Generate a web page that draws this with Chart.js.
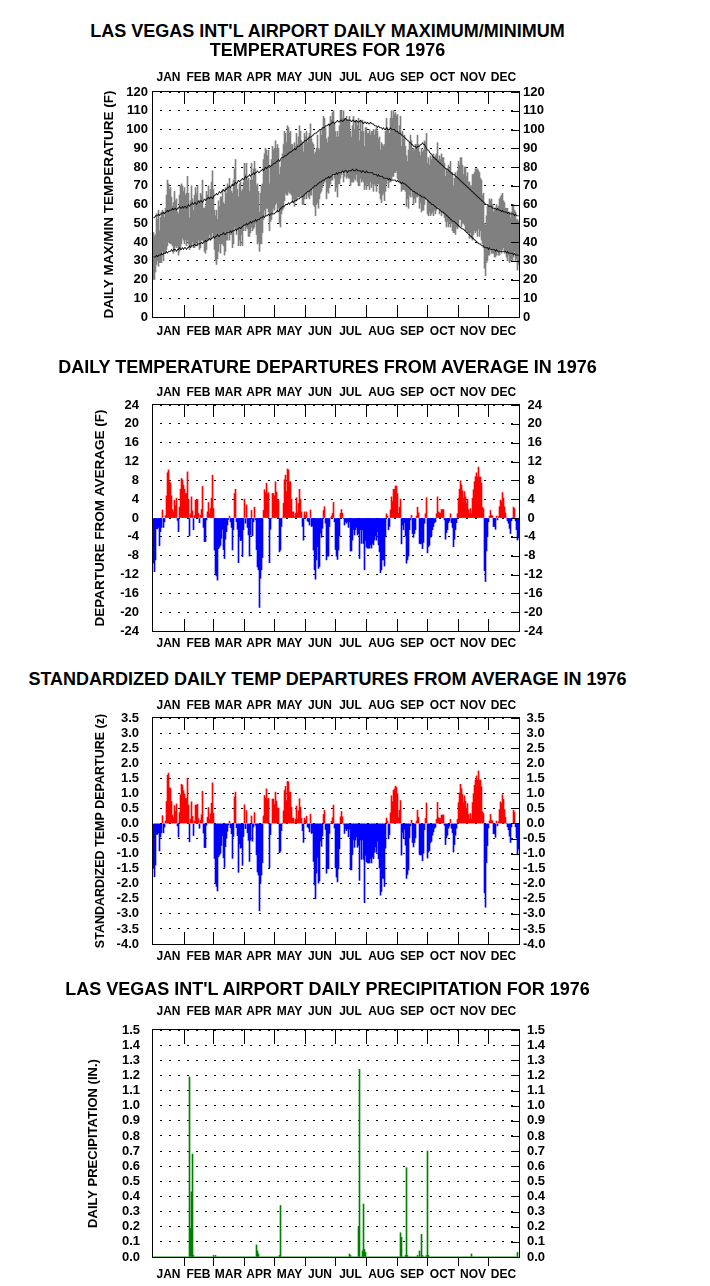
<!DOCTYPE html>
<html><head><meta charset="utf-8">
<script src="https://cdn.jsdelivr.net/npm/chart.js@4.4.1/dist/chart.umd.min.js"></script>
<style>
html,body{margin:0;padding:0;background:#fff;}
body{width:710px;height:1286px;position:relative;overflow:hidden;font-family:"Liberation Sans",Arial,sans-serif;}
.t{position:absolute;left:0;width:655px;text-align:center;font-weight:bold;font-size:18px;line-height:20px;color:#000;white-space:nowrap;z-index:2;}
canvas{position:absolute;left:0;z-index:1;}
</style></head><body>
<div class="t" style="top:21px">LAS VEGAS INT'L AIRPORT DAILY MAXIMUM/MINIMUM</div>
<div class="t" style="top:40px">TEMPERATURES FOR 1976</div>
<div class="t" style="top:357px">DAILY TEMPERATURE DEPARTURES FROM AVERAGE IN 1976</div>
<div class="t" style="top:669px">STANDARDIZED DAILY TEMP DEPARTURES FROM AVERAGE IN 1976</div>
<div class="t" style="top:979px">LAS VEGAS INT'L AIRPORT DAILY PRECIPITATION FOR 1976</div>
<canvas id="c1"></canvas>
<canvas id="c2"></canvas>
<canvas id="c3"></canvas>
<canvas id="c4"></canvas>
<script>
const monthNames = ['JAN','FEB','MAR','APR','MAY','JUN','JUL','AUG','SEP','OCT','NOV','DEC'];
const monthDays = [31,29,31,30,31,30,31,31,30,31,30,31];

const normalMax = [53,53,54,54,54,55,54,55,55,55,56,55,56,56,57,56,57,
57,57,58,57,58,58,57,58,58,59,58,58,59,58,
59,59,58,59,60,59,60,60,61,60,61,61,60,61,62,61,
62,62,61,62,63,62,63,63,64,63,64,64,63,
64,65,65,66,65,66,67,66,67,67,68,67,68,68,
69,69,70,69,70,71,70,71,72,71,72,73,72,73,73,74,73,
74,75,74,75,75,76,75,76,76,77,76,77,77,78,77,77,
78,78,79,78,79,80,79,80,80,81,80,81,81,82,
82,82,83,83,84,83,84,85,
85,85,86,86,86,87,87,88,88,88,89,89,90,89,90,91,91,91,92,92,
93,93,94,94,94,95,95,96,96,96,97,97,98,98,98,99,99,100,100,100,
101,101,101,102,102,102,103,102,103,103,
104,104,103,104,104,105,104,104,105,105,104,105,105,106,105,105,105,
105,105,104,105,105,104,104,105,104,104,104,105,104,104,103,104,104,103,104,103,103,104,103,
103,103,102,102,102,101,102,101,101,101,
100,101,100,100,101,100,100,100,101,100,100,100,
100,99,99,99,98,98,98,97,97,96,
96,95,95,94,94,93,93,92,92,91,
91,91,90,91,91,91,92,92,93,92,
92,91,90,89,89,88,87,87,86,85,
85,84,84,83,83,82,82,81,81,80,
80,79,79,79,78,78,77,77,76,76,
76,75,75,74,74,73,73,72,72,71,
71,70,70,69,69,68,68,67,67,66,
66,65,65,64,64,63,63,62,62,61,
61,60,60,60,59,59,59,59,58,58,
58,58,57,58,57,57,57,56,57,56,
56,56,56,55,56,55,55,55,55,55,54,55,54,54,54];

const normalMin = [32,32,32,33,32,33,33,33,34,33,34,34,34,35,34,35,35,
35,36,35,36,36,36,35,36,36,37,36,36,37,36,
37,37,36,37,37,38,37,38,38,38,39,38,38,39,39,39,
39,40,39,40,40,41,40,41,41,42,41,42,42,
43,42,43,43,44,43,43,44,44,44,45,44,44,45,
45,45,45,46,45,46,46,46,47,46,47,47,48,47,48,48,49,
49,49,50,49,50,50,51,50,51,51,51,52,51,52,52,52,
53,53,53,54,53,54,54,54,55,54,55,55,55,55,
55,56,56,57,56,57,58,58,
59,59,59,60,60,60,61,60,61,61,62,61,62,62,62,63,63,63,64,64,
64,65,65,66,66,67,67,67,68,68,69,69,70,70,70,71,71,72,72,72,
73,73,73,74,74,74,75,74,75,75,
76,76,76,76,77,76,77,77,77,77,78,77,78,78,78,77,78,
78,78,78,79,78,78,78,79,78,78,78,78,77,78,78,77,77,78,77,77,77,77,77,
77,76,76,76,76,75,76,75,75,75,
75,74,74,74,74,74,73,74,73,73,73,73,
73,73,72,73,72,72,72,71,72,71,
71,71,70,70,69,69,68,68,67,67,
67,66,66,66,65,65,65,64,64,64,
64,63,63,62,62,61,61,60,60,60,
59,59,58,58,58,57,57,56,56,56,
55,55,54,54,53,53,52,52,51,51,
51,50,50,49,49,48,48,47,47,47,
46,46,45,45,44,44,43,43,42,42,
41,41,40,40,39,39,39,38,38,38,
37,37,37,37,36,37,36,36,36,36,
36,35,36,35,35,35,35,35,35,35,
35,35,34,35,34,34,34,34,34,33,34,33,33,33,33];

const dailyMax = [45,43,44,55,52,57,46,53,56,57,56,53,58,65,73,71,68,
69,64,59,61,67,62,63,56,55,65,70,71,70,67,
69,65,66,75,66,53,62,70,63,57,65,69,66,70,62,62,
66,65,73,58,58,59,67,65,70,63,68,72,78,
68,57,54,57,52,62,59,64,64,68,61,60,69,66,
71,69,74,69,67,66,73,79,84,71,68,64,71,72,67,68,72,
82,76,82,73,74,67,73,82,73,79,83,79,70,71,67,56,
66,70,71,84,87,90,89,86,89,71,80,84,91,89,
90,94,90,92,90,76,80,84,
87,92,99,98,93,102,101,98,99,92,92,89,93,91,98,92,96,102,99,94,
93,88,98,96,99,93,96,98,103,95,93,92,87,88,90,97,90,89,100,97,
101,107,106,101,95,93,96,103,107,105,
109,110,103,99,96,99,96,102,110,110,106,110,106,105,107,105,105,
107,99,96,102,107,100,105,104,102,106,94,105,99,105,99,91,101,101,98,98,100,97,99,
99,100,97,100,101,99,95,96,89,93,
92,91,92,99,106,101,100,98,106,110,106,110,
108,109,107,108,99,102,107,91,99,95,
97,91,86,83,89,93,97,94,89,90,
89,92,92,97,92,88,86,90,88,89,
94,93,98,82,85,81,86,84,86,87,
85,86,87,93,84,86,84,87,85,85,
82,75,79,78,81,79,83,77,77,70,
74,77,75,78,83,81,85,85,81,76,
80,80,75,77,72,72,70,70,76,76,
77,79,79,79,78,77,74,73,65,66,
50,49,54,59,60,63,62,63,60,56,
58,57,60,58,59,63,64,65,66,62,
61,58,58,58,55,56,53,56,59,60,57,56,52,52,51];

const dailyMin = [20,20,24,28,30,27,29,29,29,35,30,34,34,36,38,40,40,
39,39,38,34,35,38,37,38,33,35,36,39,42,41,
39,41,38,41,39,36,37,38,40,37,37,38,40,38,41,36,
37,41,41,40,35,34,36,41,41,44,41,42,45,
43,36,30,28,31,35,39,34,39,39,38,33,35,41,
41,45,41,44,44,37,39,48,47,44,47,38,41,38,44,38,46,
49,46,48,47,43,43,45,48,46,47,48,50,44,39,40,35,
39,39,45,52,57,54,58,58,56,46,51,52,55,58,
57,60,61,56,58,50,48,55,
57,58,62,66,65,65,67,66,66,65,61,63,59,62,62,64,64,64,65,64,
60,60,63,66,63,67,64,63,65,65,69,60,59,54,60,61,58,63,66,67,
69,71,72,73,63,67,66,69,71,73,
73,76,74,67,69,64,71,71,74,76,78,72,75,77,74,75,74,
74,70,72,72,72,74,73,76,72,70,70,74,72,73,72,68,70,68,71,70,68,72,69,
71,67,71,70,67,71,71,66,63,61,
65,66,62,67,71,73,69,72,72,73,75,75,
77,77,78,74,73,72,71,67,68,68,
68,67,59,63,58,65,64,68,64,60,
63,61,64,64,66,58,61,56,57,57,
60,63,63,55,54,56,54,55,56,54,
57,55,57,58,59,55,57,54,56,55,
53,51,48,51,48,50,48,50,46,45,
45,44,48,47,48,52,52,48,50,50,
49,46,46,45,45,42,45,42,41,44,
46,45,46,43,47,43,46,41,39,37,
26,22,29,30,33,33,37,34,34,34,
32,32,33,35,33,33,36,34,36,37,
34,35,32,30,33,29,30,31,30,32,35,30,31,25,28];

const departure = [-9.6,-11.4,-8.9,-2.3,-2.3,-2,-5.9,-2.9,-2,1.7,-2,-0.8,0.5,4.7,9.6,10.2,7.7,
7.5,4.7,1.8,1.3,3.8,2.6,4.2,-0.5,-2.9,2.3,6.1,8.4,8.1,7,
6.1,5.2,5.2,9.8,3.8,-3.8,0.9,4.5,1.5,-2.5,0.5,3.8,3.8,4,1,-1,
0.6,1.8,6.7,-2,-5,-5,-0.4,1.3,3.3,0.9,2,4.2,9.1,
2,-6.8,-11.8,-12.3,-13.2,-6.5,-6.2,-5.8,-4.3,-2.4,-6.7,-8.6,-4.5,-2.9,
-1.5,-0.3,0.4,-0.8,-2,-6.8,-2.5,5.2,6.1,-0.8,-2.4,-9.5,-4,-4.8,-4.7,-8.2,-2.5,
4,-1.1,2.8,-2,-3.6,-8.1,-3.6,1.6,-3.8,-0.8,2.3,-0.4,-6.7,-10.4,-11,-19,
-12.8,-11,-8.4,1.6,6,5.4,7.4,5.1,5.4,-9.5,-2.4,-0.1,5.2,5.2,
4.7,7.7,5.5,3.8,3.8,-7.2,-6.8,-1.8,
0,3.1,8.1,9.1,5.6,10.4,10.2,7.7,7.7,4,1.3,1.3,0.2,1,4.3,1.1,3.1,6.1,4,1.3,
-1.8,-4.7,1.3,0.6,1.3,-0.6,-0.8,-1.5,1.7,-1.8,-1.7,-6.8,-11,-13,-8.9,-6.1,-10.7,-10.3,-3.2,-4.1,
-2.2,1.6,2.4,-1.1,-8.9,-8.1,-8.1,-1.8,0,0.4,
1,3.3,-0.8,-6.7,-8.1,-8.8,-6.8,-3.8,1,1.8,1,-0.1,-1.5,-0.8,-1.1,-0.8,-2,
-0.8,-7,-7,-4.7,-2.4,-3.6,-2.5,-2,-3.6,-3.3,-8.6,-2.5,-5.4,-2.5,-5.4,-11,-4.8,-6.2,-6.4,-6.4,-6.4,-5.7,-6.4,
-5.4,-5.7,-4.7,-3.8,-4.7,-2.9,-5.7,-7.2,-11.6,-11,
-8.9,-8.9,-10.2,-4,0.9,0.4,-2.5,-1.8,1.7,4.5,3.5,6.1,
6.1,6.8,6.8,5.2,1,2.3,4,-5.5,-1.5,-2.5,
-1,-3.8,-9.6,-8.9,-8.1,-2.5,-0.4,0.6,-3.3,-4.1,
-3.3,-2.5,0.4,2.3,1.1,-5.4,-5.5,-5.4,-6.5,-5.2,
-1.1,0.9,4.3,-7.4,-6.1,-5.8,-4.1,-3.8,-2.5,-1.8,
-1,-0.8,0.9,4.5,1.3,1.1,1,1.8,1.8,1.8,
-0.4,-4.5,-3.1,-2.5,-1,-0.6,0.9,-1,-2,-6.1,
-4.5,-2.5,-1,0.9,4.2,6.1,7.9,7,5.8,4.2,
5.6,4.5,3.1,4,1.8,0.9,2,0.9,4.2,6,
7.7,8.8,9.6,8.7,10.8,8.7,8.7,7.4,2.3,2,
-11.2,-13.5,-7,-4,-0.8,0.4,1.6,0.6,0.4,-1.8,
-1.8,-2.4,0.4,-0.4,0.3,2.4,3.8,3.5,5.4,4.2,
2.4,1.1,0,-0.6,-1.1,-2.2,-3.3,-0.6,0,2.3,2,-0.6,-2.5,-4.7,-4];

const zDeparture = [-1.49,-1.77,-1.38,-0.36,-0.36,-0.31,-0.91,-0.45,-0.31,0.26,-0.31,-0.12,0.08,0.73,1.6,1.67,1.19,
1.16,0.73,0.28,0.2,0.59,0.4,0.65,-0.08,-0.45,0.36,0.95,1.3,1.26,1.09,
0.98,0.83,0.83,1.5,0.61,-0.61,0.14,0.72,0.24,-0.4,0.08,0.61,0.61,0.64,0.16,-0.16,
0.1,0.29,1.07,-0.32,-0.8,-0.8,-0.06,0.21,0.53,0.14,0.32,0.67,1.35,
0.34,-1.16,-2.0,-2.09,-2.24,-1.1,-1.05,-0.99,-0.73,-0.41,-1.14,-1.46,-0.77,-0.49,
-0.26,-0.05,0.07,-0.14,-0.34,-1.16,-0.43,0.88,1.04,-0.14,-0.41,-1.62,-0.68,-0.82,-0.8,-1.39,-0.43,
0.62,-0.17,0.43,-0.31,-0.56,-1.26,-0.56,0.25,-0.59,-0.12,0.36,-0.06,-1.04,-1.61,-1.71,-2.9,
-1.98,-1.71,-1.3,0.25,0.93,0.84,1.15,0.79,0.84,-1.47,-0.37,-0.02,0.81,0.81,
0.63,1.04,0.74,0.51,0.51,-0.97,-0.92,-0.24,
0,0.42,1.09,1.23,0.76,1.4,1.38,1.04,1.04,0.54,0.18,0.18,0.03,0.14,0.58,0.15,0.42,0.82,0.54,0.18,
-0.24,-0.63,0.18,0.11,0.24,-0.11,-0.15,-0.28,0.31,-0.33,-0.31,-1.26,-2.04,-2.5,-1.65,-1.13,-1.98,-1.91,-0.59,-0.76,
-0.41,0.3,0.44,-0.2,-1.65,-1.5,-1.5,-0.33,0,0.07,
0.19,0.61,-0.15,-1.47,-1.78,-1.94,-1.5,-0.84,0.22,0.4,0.22,-0.02,-0.33,-0.18,-0.24,-0.18,-0.44,
-0.18,-1.54,-1.54,-1.03,-0.53,-0.79,-0.55,-0.44,-0.79,-0.73,-1.89,-0.55,-1.19,-0.55,-1.19,-2.63,-1.06,-1.27,-1.31,-1.31,-1.31,-1.17,-1.31,
-1.11,-1.17,-0.96,-0.78,-0.96,-0.59,-1.17,-1.48,-2.38,-2.26,
-1.82,-1.82,-2.09,-0.82,0.18,0.08,-0.51,-0.37,0.35,0.92,0.72,1.1,
1.15,1.24,1.2,0.99,0.19,0.44,0.76,-1.05,-0.29,-0.48,
-0.19,-0.72,-1.82,-1.69,-1.54,-0.48,-0.08,0.11,-0.63,-0.78,
-0.63,-0.48,0.08,0.44,0.21,-1.03,-1.05,-1.03,-1.24,-0.99,
-0.21,0.17,0.68,-1.15,-0.95,-0.9,-0.64,-0.59,-0.39,-0.28,
-0.16,-0.12,0.14,0.7,0.2,0.17,0.16,0.28,0.28,0.28,
-0.06,-0.7,-0.48,-0.39,-0.16,-0.09,0.14,-0.16,-0.31,-0.95,
-0.7,-0.39,-0.16,0.14,0.69,1.01,1.3,1.16,0.96,0.69,
0.92,0.74,0.51,0.66,0.3,0.15,0.33,0.15,0.69,0.99,
1.27,1.45,1.58,1.44,1.74,1.44,1.44,1.22,0.38,0.33,
-2.3,-2.78,-1.3,-0.74,-0.15,0.08,0.3,0.11,0.08,-0.34,
-0.34,-0.46,0.08,-0.08,0.06,0.46,0.72,0.67,0.95,0.8,
0.46,0.21,0,-0.11,-0.21,-0.42,-0.63,-0.11,0,0.44,0.38,-0.11,-0.48,-1.03,-0.85];

const precipDays = [36,37,38,39,40,60,62,103,104,105,126,127,196,197,205,206,209,210,211,212,247,248,252,253,254,264,266,268,269,273,274,275,318,364];
const precipAmounts = [1.19,0.19,0.43,0.68,0.01,0.01,0.01,0.08,0.04,0.02,0.01,0.34,0.02,0.01,0.2,1.24,0.04,0.35,0.05,0.03,0.16,0.13,0.01,0.59,0.01,0.01,0.04,0.15,0.01,0.01,0.7,0.01,0.02,0.03];

// ---- derived structures ----
const dayLabels = [];
const monthStarts = [];
const monthMids = [];
let acc = 0;
monthDays.forEach((n, m) => {
  monthStarts.push(acc);
  monthMids.push(acc + n / 2);
  for (let d = 1; d <= n; d++) dayLabels.push(monthNames[m] + ' ' + d);
  acc += n;
});
const nDays = acc;
const precip = dayLabels.map(() => 0);
precipDays.forEach((d, i) => { precip[d] = precipAmounts[i]; });

const FONT = '"Liberation Sans", Arial, Helvetica, sans-serif';
const tickFont = {family: FONT, size: 13, weight: 'bold'};
const monthFont = {family: FONT, size: 12, weight: 'bold'};

const framePlugin = {
  id: 'frame',
  afterDraw(chart) {
    const {ctx, chartArea: a} = chart;
    const xs = chart.scales.xt, ys = chart.scales.y;
    const o = chart.options.plugins.frame;
    ctx.save();
    ctx.strokeStyle = '#000';
    ctx.lineWidth = 1;
    ctx.beginPath();
    monthStarts.slice(1).forEach(v => {
      const x = Math.round(xs.getPixelForValue(v)) + 0.5;
      ctx.moveTo(x, a.top); ctx.lineTo(x, a.top + o.topTick);
      if (o.bottomOut) { ctx.moveTo(x, a.bottom); ctx.lineTo(x, a.bottom + o.bottomTick); }
      else { ctx.moveTo(x, a.bottom); ctx.lineTo(x, a.bottom - o.bottomTick); }
    });
    ys.ticks.forEach(t => {
      const y = Math.round(ys.getPixelForValue(t.value)) + 0.5;
      ctx.moveTo(a.right - o.rightTick, y); ctx.lineTo(a.right, y);
    });
    ctx.stroke();
    ctx.strokeRect(a.left - 0.5, a.top - 0.5, a.right - a.left + 1, a.bottom - a.top + 1);
    ctx.restore();
  }
};

function makePanel(id, o) {
  const cv = document.getElementById(id);
  cv.width = 710;
  cv.height = o.canvasBottom - o.canvasTop;
  cv.style.top = o.canvasTop + 'px';
  const topH = o.plotTop - o.canvasTop;
  const botH = o.canvasBottom - o.plotBottom;
  const fmt = v => o.dec ? Number(v).toFixed(o.dec) : String(Math.round(v));
  // right-hand labels: positive values get a leading space so the minus sign hangs to the left
  const fmtRight = v => (o.hang && v >= 0 ? ' ' : '') + fmt(v);
  const yTicks = (pad, f) => ({stepSize: o.step, autoSkip: false, maxTicksLimit: 100, color: '#000', font: tickFont, padding: pad, callback: v => f(v)});
  const monthAxis = (pos, h, pad) => ({
    type: 'linear', position: pos, min: 0, max: nDays, offset: false,
    afterBuildTicks: s => { s.ticks = monthMids.map(v => ({value: v})); },
    afterFit: s => { s.height = h; },
    grid: {display: false, drawTicks: false, offset: false},
    border: {display: false},
    ticks: {autoSkip: false, maxRotation: 0, minRotation: 0, padding: pad, color: '#000', font: monthFont,
            callback: (v, i) => monthNames[i]}
  });
  return new Chart(cv, {
    type: 'bar',
    data: {labels: dayLabels, datasets: o.datasets},
    options: {
      responsive: false, animation: false, devicePixelRatio: 1, events: [],
      layout: {padding: 0},
      plugins: {legend: {display: false}, tooltip: {enabled: false},
                frame: {topTick: o.topTick, bottomTick: o.bottomTick, bottomOut: o.bottomOut, rightTick: 8}},
      scales: {
        x: {type: 'category', display: false, offset: true, grid: {display: false}},
        xt: monthAxis('top', topH, o.topPad),
        xb: monthAxis('bottom', botH, o.botPad),
        y: {type: 'linear', position: 'left', min: o.min, max: o.max,
            afterFit: s => { s.width = 153; },
            grid: {color: '#000', lineWidth: 1, drawTicks: false},
            border: {display: false, dash: [2, 7], dashOffset: 2},
            title: {display: true, text: o.title, color: '#000', font: {family: FONT, size: o.titleSize, weight: 'bold'},
                    padding: {top: o.titleX - o.titleSize * 0.6, bottom: 0}},
            ticks: yTicks(o.leftPad, fmt)},
        y2: {type: 'linear', position: 'right', min: o.min, max: o.max,
            afterFit: s => { s.width = 710 - 519; },
            grid: {display: false, drawTicks: false},
            border: {display: false},
            ticks: yTicks(o.rightPad, fmtRight)}
      }
    },
    plugins: [framePlugin]
  });
}

const barOpts = {type: 'bar', barPercentage: 1, categoryPercentage: 1, borderWidth: 0, xAxisID: 'x', yAxisID: 'y'};

makePanel('c1', {
  canvasTop: 58, plotTop: 92, plotBottom: 317, canvasBottom: 346,
  min: 0, max: 120, step: 10, dec: 0, hang: false,
  topPad: 7, botPad: 7, leftPad: 5, rightPad: 4, topTick: 12, bottomTick: 12, bottomOut: false,
  title: 'DAILY MAX/MIN TEMPERATURE (F)', titleX: 109, titleSize: 13.5,
  datasets: [
    {type: 'line', data: normalMax, borderColor: '#000', borderWidth: 1, pointRadius: 0, tension: 0, order: 0, xAxisID: 'x', yAxisID: 'y'},
    {type: 'line', data: normalMin, borderColor: '#000', borderWidth: 1, pointRadius: 0, tension: 0, order: 0, xAxisID: 'x', yAxisID: 'y'},
    Object.assign({}, barOpts, {data: dailyMin.map((v, i) => [v, dailyMax[i]]), backgroundColor: '#808080', order: 1})
  ]
});

makePanel('c2', {
  canvasTop: 376, plotTop: 405, plotBottom: 631, canvasBottom: 660,
  min: -24, max: 24, step: 4, dec: 0, hang: true,
  topPad: 5, botPad: 5, leftPad: 14, rightPad: 5, topTick: 12, bottomTick: 12, bottomOut: false,
  title: 'DEPARTURE FROM AVERAGE (F)', titleX: 100, titleSize: 13.5,
  datasets: [
    Object.assign({}, barOpts, {data: departure, backgroundColor: departure.map(v => v >= 0 ? '#ff0000' : '#0000ff')})
  ]
});

makePanel('c3', {
  canvasTop: 690, plotTop: 718, plotBottom: 944, canvasBottom: 970,
  min: -4, max: 3.5, step: 0.5, dec: 1, hang: true,
  topPad: 5, botPad: 5, leftPad: 14, rightPad: 4, topTick: 12, bottomTick: 12, bottomOut: false,
  title: 'STANDARDIZED TEMP DEPARTURE (z)', titleX: 101, titleSize: 12.5,
  datasets: [
    Object.assign({}, barOpts, {data: zDeparture, backgroundColor: zDeparture.map(v => v >= 0 ? '#ff0000' : '#0000ff')})
  ]
});

makePanel('c4', {
  canvasTop: 998, plotTop: 1030, plotBottom: 1257, canvasBottom: 1286,
  min: 0, max: 1.5, step: 0.1, dec: 1, hang: false,
  topPad: 11, botPad: 10, leftPad: 13, rightPad: 8, topTick: 14, bottomTick: 9, bottomOut: true,
  title: 'DAILY PRECIPITATION (IN.)', titleX: 93, titleSize: 13,
  datasets: [
    Object.assign({}, barOpts, {data: precip, backgroundColor: '#008000'})
  ]
});
</script>
</body></html>
